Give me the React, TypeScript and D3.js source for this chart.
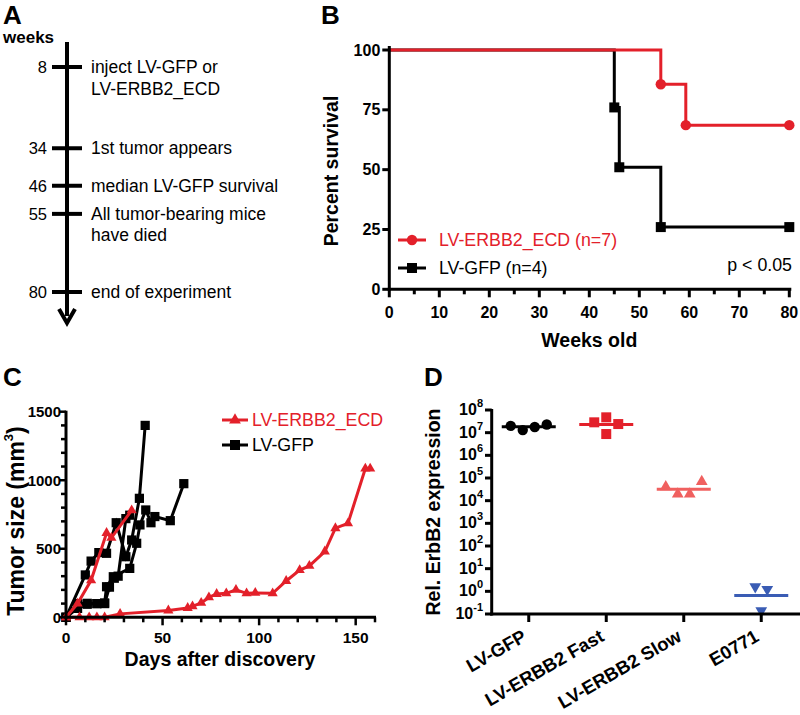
import React from 'react';
import * as d3 from 'd3';

const FONT = "'Liberation Sans', Arial, Helvetica, sans-serif";
const RED = '#e3202a';
const PINK = '#f0605f';
const BLUE = '#3a5cb4';
const BLACK = '#000000';

// ---------- Panel A: timeline ----------
const timelineWeeks = [8, 34, 46, 55, 80];
const timelineLabels = [
  ['inject LV-GFP or', 'LV-ERBB2_ECD'],
  ['1st tumor appears'],
  ['median LV-GFP survival'],
  ['All tumor-bearing mice', 'have died'],
  ['end of experiment'],
];

// ---------- Panel B: survival ----------
const survivalNames = ['LV-ERBB2_ECD (n=7)', 'LV-GFP (n=4)'];
const ecdWeeks = [0, 54.3, 59.3, 80];
const ecdSurvival = [100, 85.7, 68.6, 68.6];
const gfpWeeks = [0, 45, 46, 54.3, 80];
const gfpSurvival = [100, 76, 51, 26, 26];
const survivalXTicks = [0, 10, 20, 30, 40, 50, 60, 70, 80];
const survivalYTicks = [0, 25, 50, 75, 100];

// ---------- Panel C: tumor growth ----------
const tumorNames = ['LV-ERBB2_ECD', 'LV-GFP'];
const ecdFastDays = [0, 6, 13, 21, 23.5, 34];
const ecdFastSize = [0, 100, 270, 615, 580, 780];
const ecdSlowDays = [0, 7, 12, 16, 20, 28, 53, 63, 65.5, 70, 74, 78, 83, 88, 93.5, 98, 107, 114, 121, 126, 134, 139.5, 146, 155, 157.5];
const ecdSlowSize = [0, 0, 0, 0, 0, 25, 50, 68, 80, 105, 145, 170, 175, 200, 175, 178, 175, 265, 345, 375, 480, 650, 685, 1085, 1085];
const gfpADays = [0, 10, 13, 17, 21, 26, 31, 34, 38, 41];
const gfpASize = [0, 309, 410, 472, 467, 690, 442, 564, 868, 1400];
const gfpBDays = [0, 6, 11, 16, 20, 21, 24.5, 33, 36.6, 38.3, 41.3, 44, 46, 54, 61];
const gfpBSize = [0, 100, 102, 100, 105, 223, 296, 357, 540, 674, 783, 690, 735, 705, 975];
const gfpCDays = [0, 6, 11, 16, 20, 22.5, 25, 27, 31, 33];
const gfpCSize = [0, 65, 95, 100, 100, 220, 285, 300, 720, 745];
const tumorXTicks = [0, 50, 100, 150];
const tumorYTicks = [0, 500, 1000, 1500];

// ---------- Panel D: expression ----------
const exprGroups = ['LV-GFP', 'LV-ERBB2 Fast', 'LV-ERBB2 Slow', 'E0771'];
const exprGFP = [2.0e7, 1.3e7, 1.77e7, 2.3e7];
const exprFast = [2.86e7, 4.75e7, 2.4e7, 8.7e6];
const exprSlow = [4.1e4, 1.96e4, 1.96e4, 6.9e4];
const exprE0771 = [1.6, 1.23, 0.14];
const exprExponents = [-1, 0, 1, 2, 3, 4, 5, 6, 7, 8];

function swarm(ys: number[], step = 12, gap = 9): number[] {
  const idx = ys.map((_, i) => i).sort((a, b) => ys[a] - ys[b]);
  const rows: number[][] = [];
  idx.forEach((i) => {
    const last = rows[rows.length - 1];
    if (last && ys[i] - ys[last[last.length - 1]] < gap) last.push(i);
    else rows.push([i]);
  });
  const off = new Array(ys.length).fill(0);
  rows.forEach((r) => {
    const s = [...r].sort((a, b) => a - b);
    s.forEach((i, k) => (off[i] = (k - (s.length - 1) / 2) * step));
  });
  return off;
}

const sym = (type: any, size: number) => d3.symbol().type(type).size(size)() as string;

export default function App() {
  // Panel A scale
  const yA = d3.scaleLinear().domain([0, 80]).range([42, 292]);

  // Panel B scales
  const xB = d3.scaleLinear().domain([0, 80]).range([389.3, 789.3]);
  const yB = d3.scaleLinear().domain([0, 100]).range([289.3, 50]);
  const stepLine = d3
    .line<[number, number]>()
    .x((d) => xB(d[0]))
    .y((d) => yB(d[1]))
    .curve(d3.curveStepAfter);
  const ecdPts: [number, number][] = ecdWeeks.map((w, i) => [w, ecdSurvival[i]]);
  const gfpPts: [number, number][] = gfpWeeks.map((w, i) => [w, gfpSurvival[i]]);

  // Panel C scales
  const xC = d3.scaleLinear().domain([0, 160]).range([66, 375]);
  const yC = d3.scaleLinear().domain([0, 1500]).range([617.3, 411.7]);
  const lineC = d3
    .line<[number, number]>()
    .x((d) => xC(d[0]))
    .y((d) => yC(d[1]));
  const zip = (a: number[], b: number[]) => a.map((v, i) => [v, b[i]] as [number, number]);
  const blackSeries = [zip(gfpADays, gfpASize), zip(gfpBDays, gfpBSize), zip(gfpCDays, gfpCSize)];
  const redSeries = [zip(ecdFastDays, ecdFastSize), zip(ecdSlowDays, ecdSlowSize)];
  const xMinorC = d3.range(0, 161, 10);
  const yMinorC = d3.range(0, 1501, 100);

  // Panel D scales
  const yD = d3.scaleLog().domain([0.1, 1e8]).range([614, 410]);
  const xD = d3.scalePoint<string>().domain(exprGroups).range([490, 800]).padding(0.5);
  const groupsD = [
    { vals: exprGFP, color: BLACK, shape: 'circle' },
    { vals: exprFast, color: RED, shape: 'square' },
    { vals: exprSlow, color: PINK, shape: 'tri' },
    { vals: exprE0771, color: BLUE, shape: 'itri' },
  ];

  const boldTick = { fontFamily: FONT, fontWeight: 700, fontSize: 16 } as const;

  const circlePath = sym(d3.symbolCircle, 85);
  const squarePath = sym(d3.symbolSquare, 100);
  const smallSquare = sym(d3.symbolSquare, 85);
  const triPath = sym(d3.symbolTriangle, 45);
  const bigTri = sym(d3.symbolTriangle, 60);

  return (
    <svg width={800} height={715} style={{ position: 'absolute', left: 0, top: 0, background: '#fff' }}>
      {/* ---------------- Panel A ---------------- */}
      <text x={3} y={24} fontFamily={FONT} fontWeight={700} fontSize={26}>A</text>
      <text x={3} y={43} fontFamily={FONT} fontWeight={700} fontSize={17}>weeks</text>
      <line x1={67} x2={67} y1={yA(0)} y2={316} stroke={BLACK} strokeWidth={4} />
      <path d={`M${67 - 8},${309} L67,${323} L${67 + 8},${309}`} fill="none" stroke={BLACK} strokeWidth={4} />
      {timelineWeeks.map((w, i) => (
        <g key={w}>
          <line x1={52} x2={82} y1={yA(w)} y2={yA(w)} stroke={BLACK} strokeWidth={4} />
          <text x={47} y={yA(w)} textAnchor="end" dominantBaseline="central" fontFamily={FONT} fontSize={16.5}>{w}</text>
          {timelineLabels[i].map((t, j) => (
            <text key={j} x={91} y={yA(w) + j * 21.5} dominantBaseline="central" fontFamily={FONT} fontSize={17.5}>{t}</text>
          ))}
        </g>
      ))}

      {/* ---------------- Panel B ---------------- */}
      <text x={321} y={24} fontFamily={FONT} fontWeight={700} fontSize={26}>B</text>
      <path d={stepLine(gfpPts) as string} fill="none" stroke={BLACK} strokeWidth={3} />
      {gfpPts.slice(1).map((p, i) => (
        <path key={i} d={squarePath} transform={`translate(${xB(p[0])},${yB(p[1])})`} fill={BLACK} />
      ))}
      <path d={stepLine(ecdPts) as string} fill="none" stroke={RED} strokeWidth={3} />
      {ecdPts.slice(1).map((p, i) => (
        <path key={i} d={circlePath} transform={`translate(${xB(p[0])},${yB(p[1])})`} fill={RED} />
      ))}
      <line x1={xB(0)} x2={xB(0)} y1={yB(100) - 4} y2={yB(0) + 1.5} stroke={BLACK} strokeWidth={3} />
      <line x1={xB(0) - 1.5} x2={xB(80) + 2} y1={yB(0)} y2={yB(0)} stroke={BLACK} strokeWidth={3} />
      {survivalYTicks.map((t) => (
        <g key={t}>
          <line x1={xB(0) - 7} x2={xB(0)} y1={yB(t)} y2={yB(t)} stroke={BLACK} strokeWidth={3} />
          <text x={xB(0) - 9} y={yB(t)} textAnchor="end" dominantBaseline="central" {...boldTick}>{t}</text>
        </g>
      ))}
      {d3.range(0, 81, 5).map((t) => (
        <line key={t} x1={xB(t)} x2={xB(t)} y1={yB(0)} y2={yB(0) + (t % 10 === 0 ? 8 : 5)} stroke={BLACK} strokeWidth={3} />
      ))}
      {survivalXTicks.map((t) => (
        <text key={t} x={xB(t)} y={312} textAnchor="middle" dominantBaseline="central" {...boldTick}>{t}</text>
      ))}
      <text transform={`translate(331,171) rotate(-90)`} textAnchor="middle" dominantBaseline="central" fontFamily={FONT} fontWeight={700} fontSize={19.5}>Percent survival</text>
      <text x={(xB(0) + xB(80)) / 2} y={340} textAnchor="middle" dominantBaseline="central" fontFamily={FONT} fontWeight={700} fontSize={19.5}>Weeks old</text>
      <line x1={398} x2={426} y1={240} y2={240} stroke={RED} strokeWidth={3} />
      <path d={circlePath} transform="translate(412,240)" fill={RED} />
      <text x={439} y={240} dominantBaseline="central" fontFamily={FONT} fontSize={17.8} fill={RED}>{survivalNames[0]}</text>
      <line x1={398} x2={426} y1={268} y2={268} stroke={BLACK} strokeWidth={3} />
      <path d={squarePath} transform="translate(412,268)" fill={BLACK} />
      <text x={439} y={268} dominantBaseline="central" fontFamily={FONT} fontSize={17.8}>{survivalNames[1]}</text>
      <text x={792} y={265} textAnchor="end" dominantBaseline="central" fontFamily={FONT} fontSize={17.8}>p &lt; 0.05</text>

      {/* ---------------- Panel C ---------------- */}
      <text x={3} y={386} fontFamily={FONT} fontWeight={700} fontSize={26}>C</text>
      {blackSeries.map((s, k) => (
        <g key={k}>
          <path d={lineC(s) as string} fill="none" stroke={BLACK} strokeWidth={3} />
          {s.map((p, i) => (
            <path key={i} d={smallSquare} transform={`translate(${xC(p[0])},${yC(p[1])})`} fill={BLACK} />
          ))}
        </g>
      ))}
      {redSeries.map((s, k) => (
        <g key={k}>
          <path d={lineC(s) as string} fill="none" stroke={RED} strokeWidth={3} />
          {s.map((p, i) => (
            <path key={i} d={triPath} transform={`translate(${xC(p[0])},${yC(p[1])})`} fill={RED} />
          ))}
        </g>
      ))}
      <line x1={xC(0)} x2={xC(0)} y1={yC(1500) - 1} y2={yC(0) + 1.5} stroke={BLACK} strokeWidth={3} />
      <line x1={xC(0) - 1.5} x2={xC(160) + 1} y1={yC(0)} y2={yC(0)} stroke={BLACK} strokeWidth={3} />
      {yMinorC.map((t) => (
        <line key={t} x1={xC(0) - (t % 500 === 0 ? 7 : 5)} x2={xC(0)} y1={yC(t)} y2={yC(t)} stroke={BLACK} strokeWidth={2.5} />
      ))}
      {xMinorC.map((t) => (
        <line key={t} x1={xC(t)} x2={xC(t)} y1={yC(0)} y2={yC(0) + (t % 50 === 0 ? 8 : 5)} stroke={BLACK} strokeWidth={2.5} />
      ))}
      {tumorYTicks.map((t) => (
        <text key={t} x={xC(0) - 5} y={yC(t)} textAnchor="end" dominantBaseline="central" fontFamily={FONT} fontWeight={700} fontSize={15}>{t}</text>
      ))}
      {tumorXTicks.map((t) => (
        <text key={t} x={xC(t)} y={637} textAnchor="middle" dominantBaseline="central" fontFamily={FONT} fontWeight={700} fontSize={15.5}>{t}</text>
      ))}
      <text transform={`translate(16,521) rotate(-90)`} textAnchor="middle" dominantBaseline="central" fontFamily={FONT} fontWeight={700} fontSize={23}>
        Tumor size (mm<tspan dy={-8} fontSize={13}>3</tspan><tspan dy={8}>)</tspan>
      </text>
      <text x={220} y={659} textAnchor="middle" dominantBaseline="central" fontFamily={FONT} fontWeight={700} fontSize={19.5}>Days after discovery</text>
      <line x1={222} x2={248} y1={420} y2={420} stroke={RED} strokeWidth={3} />
      <path d={bigTri} transform="translate(235,420)" fill={RED} />
      <text x={252} y={420} dominantBaseline="central" fontFamily={FONT} fontSize={17.8} fill={RED}>{tumorNames[0]}</text>
      <line x1={222} x2={248} y1={445} y2={445} stroke={BLACK} strokeWidth={3} />
      <path d={squarePath} transform="translate(235,445)" fill={BLACK} />
      <text x={252} y={445} dominantBaseline="central" fontFamily={FONT} fontSize={17.8}>{tumorNames[1]}</text>

      {/* ---------------- Panel D ---------------- */}
      <text x={424} y={386} fontFamily={FONT} fontWeight={700} fontSize={26}>D</text>
      {groupsD.map((g, gi) => {
        const cx = xD(exprGroups[gi]) as number;
        const ys = g.vals.map((v) => yD(v));
        const off = swarm(ys);
        const gm = Math.pow(10, d3.mean(g.vals.map((v) => Math.log10(v))) as number);
        return (
          <g key={gi}>
            <line x1={cx - 27} x2={cx + 27} y1={yD(gm)} y2={yD(gm)} stroke={g.color} strokeWidth={3} />
            {ys.map((y, i) => {
              const d = g.shape === 'circle' ? circlePath : g.shape === 'square' ? squarePath : bigTri;
              const rot = g.shape === 'itri' ? ' rotate(180)' : '';
              return <path key={i} d={d} transform={`translate(${cx + off[i]},${y})${rot}`} fill={g.color} />;
            })}
          </g>
        );
      })}
      <line x1={491.7} x2={491.7} y1={yD(1e8) - 1} y2={yD(0.1) + 1.5} stroke={BLACK} strokeWidth={3} />
      <line x1={490.2} x2={800} y1={yD(0.1)} y2={yD(0.1)} stroke={BLACK} strokeWidth={3} />
      {exprExponents.map((e) => (
        <g key={e}>
          <line x1={485} x2={491.7} y1={yD(Math.pow(10, e))} y2={yD(Math.pow(10, e))} stroke={BLACK} strokeWidth={3} />
          <text x={483} y={yD(Math.pow(10, e)) + 5} textAnchor="end" fontFamily={FONT} fontWeight={700} fontSize={16}>
            10<tspan dy={-8} fontSize={11}>{e < 0 ? '-' + -e : String(e)}</tspan>
          </text>
        </g>
      ))}
      {exprGroups.map((c) => (
        <g key={c}>
          <line x1={xD(c) as number} x2={xD(c) as number} y1={yD(0.1)} y2={yD(0.1) + 8} stroke={BLACK} strokeWidth={3} />
          <text transform={`translate(${(xD(c) as number) - 1},${640}) rotate(-30)`} textAnchor="end" fontFamily={FONT} fontWeight={700} fontSize={18.5}>{c}</text>
        </g>
      ))}
      <text transform={`translate(433,512) rotate(-90)`} textAnchor="middle" dominantBaseline="central" fontFamily={FONT} fontWeight={700} fontSize={19.5}>Rel. ErbB2 expression</text>
    </svg>
  );
}
